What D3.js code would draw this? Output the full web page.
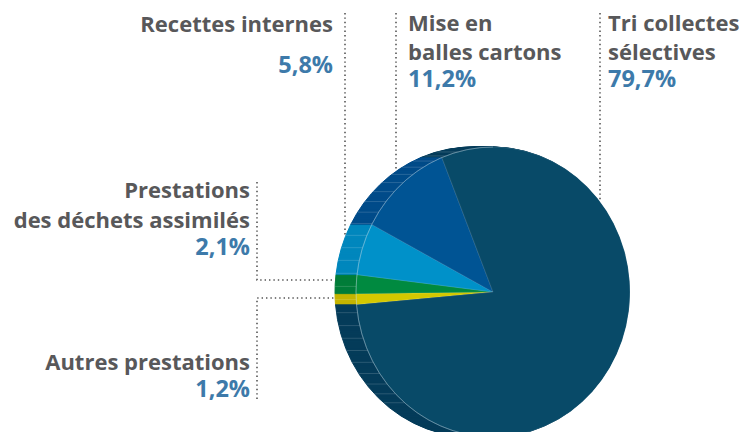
<!DOCTYPE html>
<html lang="fr">
<head>
    <meta charset="UTF-8">
    <title>Répartition des recettes</title>
    <script src="https://d3js.org/d3.v7.min.js"></script>
    <style>
        body { margin: 0; background: #fff; }
        .label { font-family: "Open Sans", sans-serif; font-weight: 700; font-size: 22px; fill: #58585a; }
        .pct { font-family: "Open Sans", sans-serif; font-weight: 700; font-size: 23.5px; fill: #3d7aaa; }
        .leader { fill: none; stroke: #555; stroke-width: 1.6; stroke-dasharray: 1.4 3; }
    </style>
</head>
<body>
    <script>
        // données (ordre horaire à partir de 265°)
        const categories = ["Autres prestations", "Prestations des déchets assimilés", "Recettes internes", "Mise en balles cartons", "Tri collectes sélectives"];
        const values = [1.2, 2.1, 5.8, 11.2, 79.7];
        const labelLines = [["Autres prestations"], ["Prestations", "des déchets assimilés"], ["Recettes internes"], ["Mise en", "balles cartons"], ["Tri collectes", "sélectives"]];
        const colors = ["#d4c800", "#008a40", "#0091c9", "#005494", "#084a68"];
        const sideColors = ["#c4b400", "#007d39", "#0087bd", "#004b89", "#053c5a"];

        const width = 743, height = 432;
        const cx = 493, cy = 292, rx = 137, ry = 145, depth = 21;
        const startDeg = 265;

        const fr = d3.formatLocale({ decimal: ",", thousands: " ", grouping: [3], currency: ["", " €"] });
        const fmt = v => fr.format(".1f")(v) + "%";

        const svg = d3.select("body").append("svg")
            .attr("width", width)
            .attr("height", height);

        const pie = d3.pie()
            .sort(null)
            .startAngle(startDeg * Math.PI / 180)
            .endAngle((startDeg + 360) * Math.PI / 180);
        const arcs = pie(values);
        const arc = d3.arc().innerRadius(0).outerRadius(ry);

        // côté (épaisseur) : copies décalées vers la gauche
        for (let k = depth; k >= 1; k--) {
            svg.append("g")
                .attr("transform", `translate(${cx - k},${cy}) scale(${rx / ry},1)`)
                .selectAll("path")
                .data(arcs)
                .join("path")
                .attr("d", arc)
                .attr("fill", (d, i) => sideColors[i])
                .attr("stroke", (d, i) => sideColors[i])
                .attr("stroke-width", 1)
                .attr("vector-effect", "non-scaling-stroke");
        }

        // stries horizontales sur le côté
        const stripes = d3.range(-75, 50, 5.2);
        svg.append("g").selectAll("line")
            .data(stripes)
            .join("line")
            .attr("x1", p => cx - depth - rx * Math.cos(p * Math.PI / 180))
            .attr("x2", p => cx - rx * Math.cos(p * Math.PI / 180))
            .attr("y1", p => cy + ry * Math.sin(p * Math.PI / 180))
            .attr("y2", p => cy + ry * Math.sin(p * Math.PI / 180))
            .attr("stroke", "rgba(255,255,255,0.22)")
            .attr("stroke-width", 0.7);

        // face avant
        const face = svg.append("g")
            .attr("transform", `translate(${cx},${cy}) scale(${rx / ry},1)`);
        face.selectAll("path.slice")
            .data(arcs)
            .join("path")
            .attr("class", "slice")
            .attr("d", arc)
            .attr("fill", (d, i) => colors[i])
            .attr("stroke", "rgba(255,255,255,0.2)")
            .attr("stroke-width", 0.6)
            .attr("vector-effect", "non-scaling-stroke");

        face.append("path")
            .attr("d", d3.arc().innerRadius(ry).outerRadius(ry).startAngle(Math.PI).endAngle(2 * Math.PI)())
            .attr("fill", "none")
            .attr("stroke", "rgba(190,215,230,0.4)")
            .attr("stroke-width", 0.6)
            .attr("vector-effect", "non-scaling-stroke");

        // géométrie pour les lignes de rappel
        const backTopY = x => cy - ry * Math.sqrt(Math.max(0, 1 - ((x - (cx - depth)) / rx) ** 2));
        const faceTopY = x => cy - ry * Math.sqrt(Math.max(0, 1 - ((x - cx) / rx) ** 2));
        const backLeftX = y => cx - depth - rx * Math.sqrt(Math.max(0, 1 - ((y - cy) / ry) ** 2));

        const labelPos = [
            { x: 250, y: 370, anchor: "end", lh: 30, pctGap: 27 },
            { x: 250, y: 198, anchor: "end", lh: 30, pctGap: 27 },
            { x: 333, y: 32, anchor: "end", lh: 30, pctGap: 41 },
            { x: 408, y: 31, anchor: "start", lh: 29, pctGap: 27 },
            { x: 608, y: 31, anchor: "start", lh: 29, pctGap: 27 }
        ];

        const leaders = [
            [[257, 399], [257, 298], [backLeftX(298), 298]],
            [[257, 182], [257, 280], [backLeftX(280), 280]],
            [[345, 13], [345, backTopY(345)]],
            [[396, 13], [396, backTopY(396)]],
            [[600, 13], [600, faceTopY(600)]]
        ];

        svg.append("g").selectAll("path")
            .data(leaders)
            .join("path")
            .attr("class", "leader")
            .attr("d", d3.line());

        const lab = svg.append("g").selectAll("g")
            .data(categories)
            .join("g");

        lab.each(function (c, i) {
            const p = labelPos[i];
            const g = d3.select(this);
            labelLines[i].forEach((line, j) => {
                g.append("text")
                    .attr("class", "label")
                    .attr("x", p.x)
                    .attr("y", p.y + j * p.lh)
                    .attr("text-anchor", p.anchor)
                    .text(line);
            });
            g.append("text")
                .attr("class", "pct")
                .attr("x", p.x)
                .attr("y", p.y + (labelLines[i].length - 1) * p.lh + p.pctGap)
                .attr("text-anchor", p.anchor)
                .text(fmt(values[i]));
        });
    </script>
</body>
</html>
